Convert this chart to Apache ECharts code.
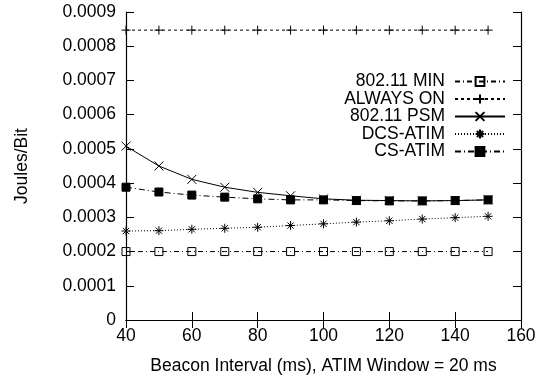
<!DOCTYPE html>
<html><head><meta charset="utf-8">
<script src="https://cdn.jsdelivr.net/npm/echarts@6/dist/echarts.min.js"></script>
<style>html,body{margin:0;padding:0;background:#fff}#c{width:548px;height:380px}</style>
</head><body><div id="c"></div>
<script>
const beaconIntervals = [40, 50, 60, 70, 80, 90, 100, 110, 120, 130, 140, 150];
const min80211 = [0.0002, 0.0002, 0.0002, 0.0002, 0.0002, 0.0002, 0.0002, 0.0002, 0.0002, 0.0002, 0.0002, 0.0002];
const alwaysOn = [0.000847, 0.000847, 0.000847, 0.000847, 0.000847, 0.000847, 0.000847, 0.000847, 0.000847, 0.000847, 0.000847, 0.000847];
const psm80211 = [0.000508, 0.00045, 0.000411, 0.000388, 0.000373, 0.000363, 0.000354, 0.00035, 0.000349, 0.000348, 0.000349, 0.000351];
const dcsAtim = [0.00026, 0.000261, 0.000265, 0.000268, 0.000271, 0.000276, 0.000281, 0.000286, 0.00029, 0.000295, 0.000299, 0.000303];
const csAtim = [0.000388, 0.000374, 0.000365, 0.000359, 0.000354, 0.000351, 0.000351, 0.000349, 0.000348, 0.000348, 0.000349, 0.000351];
const seriesNames = ['802.11 MIN', 'ALWAYS ON', '802.11 PSM', 'DCS-ATIM', 'CS-ATIM'];
const xTicks = [40, 60, 80, 100, 120, 140, 160];
const yTicks = ['0', '0.0001', '0.0002', '0.0003', '0.0004', '0.0005', '0.0006', '0.0007', '0.0008', '0.0009'];

const FONT = 'Liberation Sans';
const FS = 17.5;
const pairs = ys => beaconIntervals.map((x, i) => [x, ys[i]]);
const PLUS = 'path://M0,5L10,5M5,0L5,10';
const CROSS = 'path://M0,0L10,10M10,0L0,10';
const STAR = 'path://M0,5L10,5M5,0L5,10M1.5,1.5L8.5,8.5M8.5,1.5L1.5,8.5';

function mk(name, ys, symbol, size, dash, fill) {
  return {
    name, type: 'line', data: pairs(ys), symbol, symbolSize: size,
    lineStyle: { color: '#000', width: 1, type: dash },
    itemStyle: { color: fill, borderColor: '#000', borderWidth: 1 },
    emphasis: { disabled: true }, animation: false, z: 3
  };
}

const chart = echarts.init(document.getElementById('c'), null, { renderer: 'canvas' });
const axisCommon = {
  axisLine: { show: true, lineStyle: { color: '#000', width: 1.2 } },
  axisTick: { show: true, inside: true, length: 8, lineStyle: { color: '#000' } },
  splitLine: { show: false }
};
chart.setOption({
  animation: false,
  grid: { left: 126, right: 27, top: 12, bottom: 60, containLabel: false },
  xAxis: [
    Object.assign({
      type: 'value', min: 40, max: 160, interval: 20, position: 'bottom',
      name: 'Beacon Interval (ms), ATIM Window = 20 ms', nameLocation: 'middle', nameGap: 37,
      nameTextStyle: { fontFamily: FONT, fontSize: FS, color: '#000' },
      axisLabel: { fontFamily: FONT, fontSize: FS, color: '#000', margin: 7,
        formatter: v => xTicks.includes(v) ? String(v) : '' }
    }, axisCommon),
    Object.assign({ type: 'value', min: 40, max: 160, interval: 20, position: 'top', axisLabel: { show: false } }, axisCommon)
  ],
  yAxis: [
    Object.assign({
      type: 'value', min: 0, max: 0.0009, interval: 0.0001, position: 'left',
      name: 'Joules/Bit', nameLocation: 'middle', nameGap: 95, nameRotate: 90,
      nameTextStyle: { fontFamily: FONT, fontSize: FS, color: '#000' },
      axisLabel: { fontFamily: FONT, fontSize: FS, color: '#000', margin: 10,
        formatter: v => yTicks[Math.round(v / 0.0001)] }
    }, axisCommon),
    Object.assign({ type: 'value', min: 0, max: 0.0009, interval: 0.0001, position: 'right', axisLabel: { show: false } }, axisCommon)
  ],
  legend: {
    orient: 'vertical', right: 37, top: 67.5, align: 'right',
    itemWidth: 50, itemHeight: 11, itemGap: -0.5,
    textStyle: { fontFamily: FONT, fontSize: FS, color: '#000', padding: [0, 5, 0, 0] },
    data: seriesNames, selectedMode: false
  },
  series: [
    mk(seriesNames[0], min80211, 'rect', 8, [5, 3, 1, 3], 'rgba(0,0,0,0)'),
    mk(seriesNames[1], alwaysOn, PLUS, 9, [3, 3], '#000'),
    mk(seriesNames[2], psm80211, CROSS, 9, 'solid', '#000'),
    mk(seriesNames[3], dcsAtim, STAR, 9, [1, 2], '#000'),
    mk(seriesNames[4], csAtim, 'rect', 8, [6, 3, 1, 3], '#000')
  ]
});
</script></body></html>
